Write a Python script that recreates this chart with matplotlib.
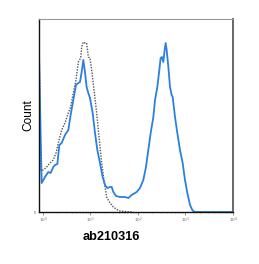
import matplotlib
matplotlib.use("Agg")
import matplotlib.pyplot as plt
import numpy as np

# fluorescence in decades (log10 units from the first axis tick), counts
blue_x = [-0.084, -0.028, 0.042, 0.112, 0.161, 0.217, 0.253, 0.302, 0.344, 0.393, 0.463, 0.533,
          0.582, 0.638, 0.695, 0.744, 0.779, 0.814, 0.849, 0.884, 0.919, 0.954, 0.989, 1.046,
          1.095, 1.144, 1.200, 1.256, 1.305, 1.354, 1.411, 1.446, 1.481, 1.537, 1.621, 1.726,
          1.796, 1.867, 1.972, 2.042, 2.112, 2.168, 2.217, 2.267, 2.323, 2.358, 2.407, 2.449,
          2.477, 2.505, 2.533, 2.561, 2.582, 2.604, 2.639, 2.674, 2.709, 2.730, 2.779, 2.828,
          2.884, 2.940, 2.989, 3.039, 3.095, 3.151, 3.200, 4.007]
blue_y = [155, 29, 35, 40, 39, 45, 47, 48, 67, 69, 77, 82,
          97, 112, 127, 129, 130, 140, 152, 140, 125, 119, 114, 99,
          79, 62, 49, 35, 27, 24, 25, 25, 20, 16, 15, 15,
          14, 17, 20, 24, 32, 45, 62, 79, 95, 112, 125, 142,
          154, 155, 150, 162, 169, 162, 145, 125, 117, 115, 95, 79,
          62, 49, 32, 19, 7, 1.3, 0, 0]

iso_x = [-0.084, -0.049, 0.007, 0.077, 0.147, 0.217, 0.274, 0.323, 0.393, 0.463, 0.533, 0.582,
         0.638, 0.695, 0.744, 0.793, 0.814, 0.849, 0.884, 0.919, 0.954, 0.989, 1.025, 1.074,
         1.130, 1.186, 1.235, 1.284, 1.340, 1.411, 1.481, 1.551, 1.621, 1.762, 1.902]
iso_y = [185, 42, 42, 45, 49, 52, 59, 69, 82, 89, 99, 105,
         119, 132, 150, 154, 165, 170, 169, 169, 155, 154, 142, 122,
         99, 72, 49, 32, 15, 9, 5, 2.7, 1, 0.3, 0]

tick_pos = [0, 1, 2, 3, 4]
tick_labels = ["$10^{0}$", "$10^{1}$", "$10^{2}$", "$10^{3}$", "$10^{4}$"]

plt.rcParams['font.family'] = ['Liberation Sans', 'DejaVu Sans']

fig = plt.figure(figsize=(2.59, 2.64), dpi=100)
ax = fig.add_axes([39 / 259, 1 - 212 / 264, 194 / 259, 193 / 264])

ax.plot(iso_x, iso_y, color='#555555', lw=1.0, ls=(0, (1, 1)))
ax.plot(blue_x, blue_y, color='#2a80e0', lw=1.3)

ax.set_xlim(-0.084, 4.0)
ax.set_ylim(0, 193)

ax.set_xticks(tick_pos)
ax.set_xticklabels(tick_labels, fontsize=3, color='#666666')
minor = [d + np.log10(m) for d in range(4) for m in range(2, 10)]
ax.set_xticks(minor, minor=True)
ax.tick_params(axis='x', which='major', length=2, width=0.5, pad=1, colors='#666666')
ax.tick_params(axis='x', which='minor', length=1, width=0.4, colors='#888888')
ax.set_yticks([0])
ax.set_yticklabels(["0"], fontsize=3, color='#666666')
ax.tick_params(axis='y', length=0, pad=2)

ax.spines['left'].set(color='#111111', linewidth=1.0)
ax.spines['bottom'].set(color='#111111', linewidth=1.0)
ax.spines['top'].set(color='#999999', linewidth=0.8)
ax.spines['right'].set(color='#666666', linewidth=1.4)

fig.text(28 / 259, 1 - 115 / 264, "Count", rotation=90, fontsize=8.6,
         ha='center', va='center')
fig.text(111.5 / 259, 1 - 237 / 264, "ab210316", fontsize=9.2, fontweight='bold',
         ha='center', va='center')

fig.savefig("out.png", dpi=100)
